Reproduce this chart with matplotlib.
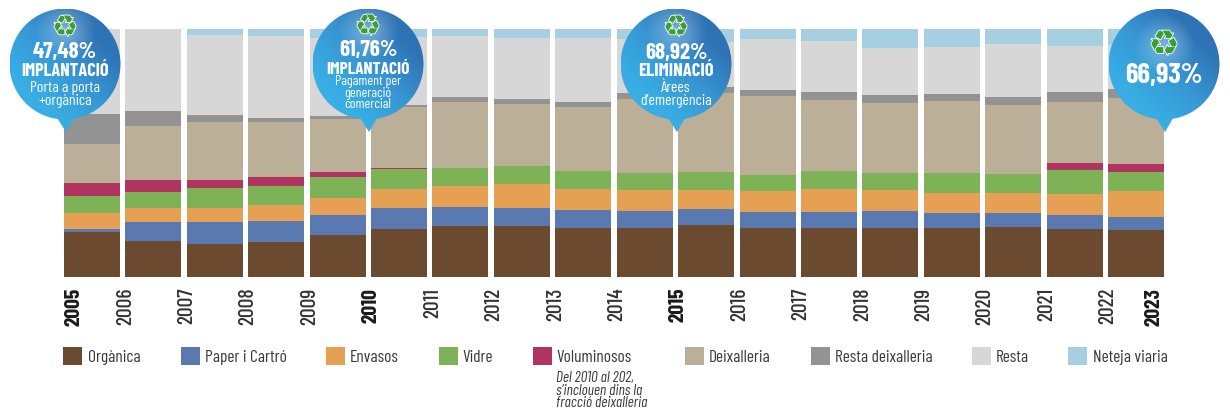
import numpy as np
import matplotlib
matplotlib.use("Agg")
import matplotlib.pyplot as plt
from matplotlib.patches import Circle, Polygon, Rectangle
from matplotlib.colors import LinearSegmentedColormap
import matplotlib.patheffects as pe

plt.rcParams["font.family"] = ["Barlow Condensed", "Liberation Sans", "DejaVu Sans"]

# one bar per interval, the 2023 label closes the last one
years = list(range(2005, 2024))
bar_years = years[:-1]
bold_years = [2005, 2010, 2015, 2023]

organica = [18.1, 14.5, 13.3, 14.1, 16.9, 19.4, 20.6, 20.6, 19.8, 19.8, 21.0, 19.8, 19.8, 19.8, 19.8, 20.2, 19.4, 19.0]
paper = [1.2, 7.7, 8.9, 8.5, 8.1, 8.5, 7.7, 7.3, 7.3, 6.9, 6.5, 6.5, 6.5, 6.9, 6.0, 5.6, 5.6, 5.2]
envasos = [6.5, 5.6, 5.6, 6.5, 6.9, 7.7, 8.5, 9.7, 8.5, 8.5, 7.7, 8.5, 9.3, 8.5, 8.1, 8.1, 8.5, 10.5]
vidre = [6.9, 6.5, 8.1, 7.7, 8.5, 8.1, 7.3, 7.3, 7.3, 6.9, 7.3, 6.5, 7.3, 6.9, 8.1, 7.7, 9.7, 7.7]
voluminosos = [5.2, 4.8, 3.2, 3.6, 2.0, 0.4, 0, 0, 0, 0, 0, 0, 0, 0, 0, 0, 2.8, 3.2]
deixalleria = [15.7, 21.8, 23.4, 22.2, 21.4, 24.6, 26.6, 25.0, 25.8, 29.8, 31.5, 31.5, 28.6, 28.2, 29.0, 27.8, 24.6, 26.6]
resta_deix = [12.1, 6.0, 2.8, 1.6, 1.2, 0.8, 2.0, 2.0, 2.0, 2.4, 2.8, 2.8, 3.2, 3.2, 2.8, 3.2, 4.0, 3.6]
resta = [34.3, 33.1, 32.3, 33.1, 31.5, 27.4, 24.6, 24.6, 25.8, 21.8, 18.1, 20.2, 20.6, 19.0, 19.0, 21.4, 18.5, 17.7]
neteja = [0, 0, 2.4, 2.8, 3.6, 3.2, 2.8, 3.6, 3.6, 4.0, 5.2, 4.4, 4.8, 7.7, 7.3, 6.0, 6.9, 6.5]

series = [organica, paper, envasos, vidre, voluminosos, deixalleria, resta_deix, resta, neteja]
labels = ["Orgànica", "Paper i Cartró", "Envasos", "Vidre", "Voluminosos",
          "Deixalleria", "Resta deixalleria", "Resta", "Neteja viaria"]
colors = ["#6C4A2F", "#5A79B0", "#E5A054", "#7DB356", "#B03360",
          "#BBAF98", "#929392", "#D7D7D7", "#A6D0E1"]

W, H = 1230, 410
fig = plt.figure(figsize=(W / 100, H / 100), dpi=100)

ax = fig.add_axes([64 / W, (H - 278) / H, 1100 / W, 248 / H])
width = 56 / 61.41
bottom = np.zeros(len(bar_years))
for values, color, label in zip(series, colors, labels):
    ax.bar(bar_years, values, width=width, bottom=bottom, align="edge", color=color, linewidth=0, label=label)
    bottom += np.array(values)

ax.set_xlim(2005, 2022 + width)
ax.set_ylim(0, 100)
ax.set_yticks([])
for side in ax.spines.values():
    side.set_visible(False)

ax.set_xticks(bar_years + [2022 + width])
ax.set_xticklabels([str(y) for y in years], rotation=90, fontsize=15.5, fontweight=500, color="#333333")
ax.tick_params(axis="x", length=0, pad=7)
for lab, y in zip(ax.get_xticklabels(), years):
    if y in bold_years:
        lab.set_fontweight("bold")
        lab.set_color("#1a1a1a")
    if y == 2005:
        lab.set_ha("left")
    if y == 2023:
        lab.set_ha("right")

# overlay in image pixels for the callouts and the hand placed legend
over = fig.add_axes([0, 0, 1, 1])
over.axis("off")
over.patch.set_alpha(0)

cmap = LinearSegmentedColormap.from_list("bubble", ["#38AEE4", "#3796D3", "#2E73B5"])


def bubble(cx, cy, r, glow_y, tip_y=133):
    over.add_patch(Polygon([[cx - 11, 114], [cx + 12, 114], [cx + 1, tip_y]], closed=True, color="#38ABE1", lw=0, zorder=2))
    gx, gy = np.meshgrid(np.linspace(-1, 1, 200), np.linspace(-1, 1, 200))
    grad = np.clip((gx - gy) / 2.2 + 0.5, 0, 1)
    rgba = cmap(grad)
    # soft highlight behind the recycling icon
    d = np.hypot(gx, gy - (glow_y - cy) / r)
    glow = np.clip(1 - d / 0.55, 0, 1)[..., None] * 0.35
    rgba[..., :3] = rgba[..., :3] * (1 - glow) + glow
    im = over.imshow(rgba, extent=[cx - r, cx + r, cy + r, cy - r], aspect="auto", zorder=3, interpolation="bilinear")
    im.set_clip_path(Circle((cx, cy), r, transform=over.transData))


def icon(cx, cy, size):
    over.text(cx, cy, "\u267b", family="DejaVu Sans", fontsize=size, color="#37A035", ha="center", va="center", zorder=5,
              path_effects=[pe.withStroke(linewidth=1.2, foreground="white")])


def btext(cx, y, s, size, bold=False):
    over.text(cx, y, s, color="white", fontsize=size, fontweight="bold" if bold else "normal",
              ha="center", va="center", zorder=6)


bubble(65, 65, 55.5, 30)
icon(65, 29, 21)
btext(65, 52.5, "47,48%", 16.5, True)
btext(65, 72, "IMPLANTACIÓ", 13.2, True)
btext(65, 88, "Porta a porta", 11.3)
btext(65, 101, "+orgànica", 11.3)

bubble(368, 65, 55.5, 30)
icon(368, 28, 21)
btext(368, 50, "61,76%", 16.5, True)
btext(368, 69, "IMPLANTACIÓ", 12.6, True)
btext(368, 82, "Pagament per", 10)
btext(368, 93.5, "generació", 10)
btext(368, 105, "comercial", 10)

bubble(676, 65, 55.5, 30)
icon(676, 29, 21)
btext(676, 53, "68,92%", 16.5, True)
btext(676, 72, "ELIMINACIÓ", 13.4, True)
btext(676, 88, "Àrees", 11.3)
btext(676, 101, "d’emergència", 11.3)

bubble(1164, 65, 55.5, 46)
icon(1164, 46, 25)
btext(1164, 75, "66,93%", 20.5, True)

# legend
swatch_x = [63, 181, 326, 439, 533, 685, 811, 972, 1068]
text_x = [88, 205, 350, 462, 556, 709, 835, 996, 1093]
for sx, tx, color, label in zip(swatch_x, text_x, colors, labels):
    over.add_patch(Rectangle((sx, 348), 19, 18, color=color, lw=0))
    over.text(tx, 358, label, fontsize=12.5, color="#3a3a3a", ha="left", va="center")

note = ["Del 2010 al 202,", "s’inclouen dins la", "fracció deixalleria"]
for y, line in zip([378.5, 391, 403.5], note):
    over.text(556, y, line, fontsize=11, style="italic", color="#3a3a3a", ha="left", va="center")

over.set_xlim(0, W)
over.set_ylim(H, 0)

fig.savefig("out.png", dpi=100, facecolor="white")
